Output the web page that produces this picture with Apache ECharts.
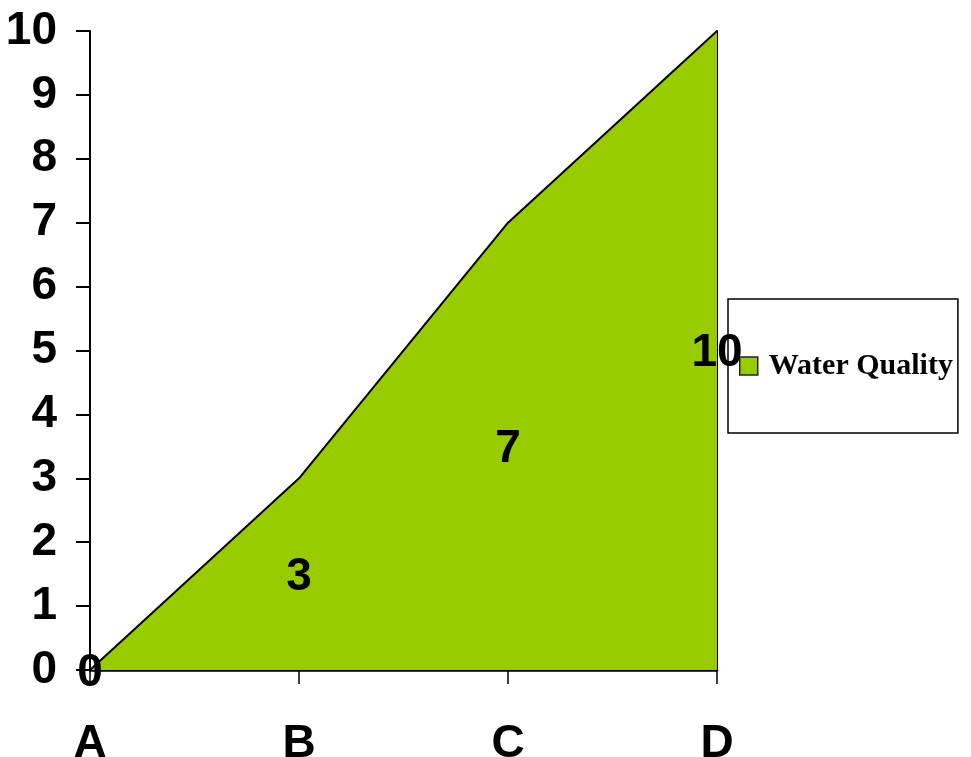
<!DOCTYPE html>
<html>
<head>
<meta charset="utf-8">
<script src="https://cdn.jsdelivr.net/npm/echarts@6/dist/echarts.min.js"></script>
<style>
  html, body { margin: 0; padding: 0; background: #fff; }
  #chart { width: 971px; height: 757px; }
</style>
</head>
<body>
<div id="chart"></div>
<script>
// 分类与数值
const categories = ['A', 'B', 'C', 'D'];
const waterQuality = [0, 3, 7, 10];
const yTicks = [0, 1, 2, 3, 4, 5, 6, 7, 8, 9, 10];

const FONT = '"Liberation Sans", Arial, sans-serif';
const green = '#99CC00';

const myChart = echarts.init(document.getElementById('chart'));

const option = {
  backgroundColor: '#fff',
  animation: false,
  grid: { left: 90, right: 254, top: 31, bottom: 87, containLabel: false, outerBoundsMode: 'none' },
  legend: {
    data: ['Water Quality'],
    left: 728,
    top: 299,
    orient: 'vertical',
    padding: [52, 5, 52, 11],
    borderColor: '#000',
    borderWidth: 1.5,
    icon: 'rect',
    itemWidth: 18,
    itemHeight: 18,
    itemStyle: { color: green, borderColor: '#222', borderWidth: 1.5 },
    textStyle: {
      fontFamily: '"Liberation Serif", "Times New Roman", serif',
      fontWeight: 'bold',
      fontSize: 30,
      color: '#000',
      padding: [0, 0, 0, 6]
    }
  },
  xAxis: {
    type: 'category',
    boundaryGap: false,
    data: categories,
    axisLine: { lineStyle: { color: '#000', width: 2.5 } },
    axisTick: { show: true, length: 14, lineStyle: { color: '#000', width: 1.5 } },
    axisLabel: {
      margin: 51,
      color: '#000',
      fontFamily: FONT,
      fontWeight: 'bold',
      fontSize: 46
    },
    splitLine: { show: false }
  },
  yAxis: [{
    type: 'value',
    min: 0,
    max: 10,
    interval: 1,
    axisLine: { show: true, lineStyle: { color: '#000', width: 2 } },
    axisTick: { show: true, length: 14, lineStyle: { color: '#000', width: 2 } },
    axisLabel: {
      margin: 33,
      color: '#000',
      fontFamily: FONT,
      fontWeight: 'bold',
      fontSize: 46,
      formatter: v => yTicks.includes(v) ? String(v) : ''
    },
    splitLine: { show: false }
  }, {
    // 面积图右边缘的竖线
    type: 'value',
    position: 'right',
    min: 0,
    max: 10,
    interval: 1,
    axisLine: { show: true, lineStyle: { color: '#000', width: 2 } },
    axisTick: { show: false },
    axisLabel: { show: false },
    splitLine: { show: false }
  }],
  series: [{
    name: 'Water Quality',
    type: 'line',
    data: waterQuality,
    symbol: 'none',
    lineStyle: { color: '#000', width: 2 },
    itemStyle: { color: green },
    areaStyle: { color: green, opacity: 1 },
    z: 2
  }, {
    // 数据标签放在面积的中间高度
    name: 'labels',
    type: 'scatter',
    data: waterQuality.map((v, i) => [i, v / 2, v]),
    symbolSize: 0,
    z: 10,
    itemStyle: { opacity: 1, color: '#000' },
    label: {
      show: true,
      position: 'inside',
      offset: [0, 3],
      color: '#000',
      opacity: 1,
      fontFamily: FONT,
      fontWeight: 'bold',
      fontSize: 46,
      formatter: p => String(p.data[2])
    },
    emphasis: { disabled: true }
  }]
};

myChart.setOption(option);
</script>
</body>
</html>
